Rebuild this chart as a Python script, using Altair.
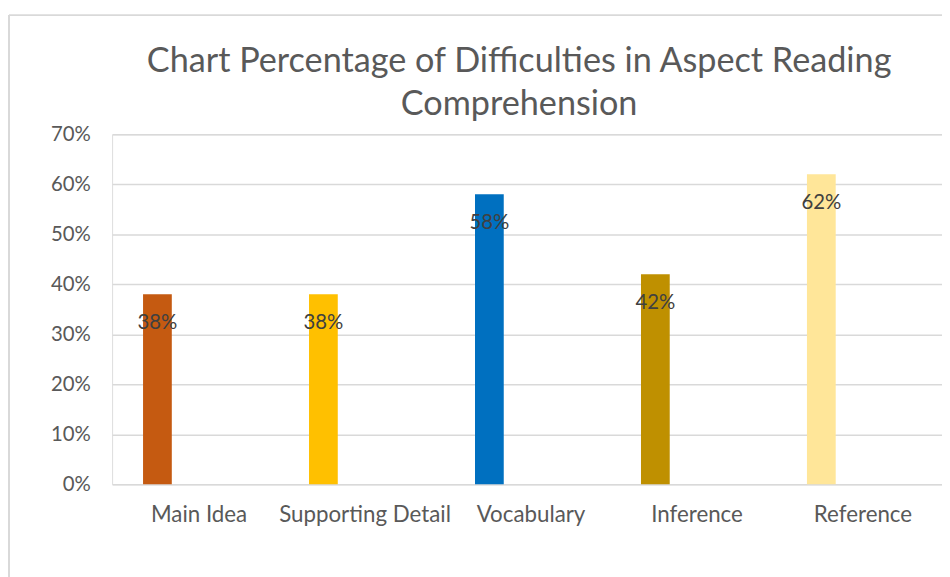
import altair as alt
import pandas as pd

categories = ["Main Idea", "Supporting Detail", "Vocabulary", "Inference", "Reference"]
values = [0.38, 0.38, 0.58, 0.42, 0.62]
labels = ["38%", "38%", "58%", "42%", "62%"]
colors = ["#C55A11", "#FFC000", "#0070C0", "#BF9000", "#FFE699"]
y_ticks = [0, 0.1, 0.2, 0.3, 0.4, 0.5, 0.6, 0.7]

df = pd.DataFrame({"Aspect": categories, "Value": values, "Label": labels})

FONT = "Lato"
W, H = 837, 353
BAR_SHIFT = -38

x_enc = alt.X("Aspect:N", sort=categories,
              scale=alt.Scale(paddingInner=0, paddingOuter=0),
              axis=alt.Axis(title=None, labelAngle=0, labelFontSize=22.5, labelColor="#595959",
                            labelFont=FONT, labelPadding=19, ticks=False, domain=False,
                            grid=False, labelOffset=4))
y_enc = alt.Y("Value:Q", scale=alt.Scale(domain=[0, 0.7], nice=False),
              axis=alt.Axis(title=None, format=".0%", values=y_ticks, labelFontSize=20.5,
                            labelColor="#595959", labelFont=FONT, labelPadding=22,
                            ticks=False, domain=False, grid=True, gridColor="#D9D9D9",
                            gridWidth=1.5))

bars = alt.Chart(df).mark_bar(size=29, xOffset=BAR_SHIFT).encode(
    x=x_enc,
    y=y_enc,
    color=alt.Color("Aspect:N", scale=alt.Scale(domain=categories, range=colors), legend=None),
)

text = alt.Chart(df).mark_text(xOffset=BAR_SHIFT, dy=29, baseline="middle", fontSize=20.5,
                               font=FONT, color="#404040").encode(
    x=alt.X("Aspect:N", sort=categories),
    y="Value:Q",
    text="Label:N",
)

frame_left = alt.Chart(df).mark_rule(color="#D9D9D9", strokeWidth=1.5).encode(
    x=alt.value(-104), y=alt.value(-120), y2=alt.value(H + 95))
frame_top = alt.Chart(df).mark_rule(color="#D9D9D9", strokeWidth=1.5).encode(
    x=alt.value(-104), x2=alt.value(W + 5), y=alt.value(-120))

chart = alt.layer(bars, text, frame_left, frame_top).properties(
    width=W, height=H,
    title=alt.TitleParams(
        text=["Chart Percentage of Difficulties in Aspect Reading", "Comprehension"],
        fontSize=34.5, font=FONT, fontWeight="normal", color="#595959",
        anchor="middle", dx=-8, dy=117, offset=8, lineHeight=44,
    ),
    autosize=alt.AutoSizeParams(type="none"),
    padding={"left": 105, "top": 125, "right": 0, "bottom": 91},
).configure_view(stroke=None).configure(background="white")

chart.save("out.html", embed_options={"renderer": "svg", "actions": False})
